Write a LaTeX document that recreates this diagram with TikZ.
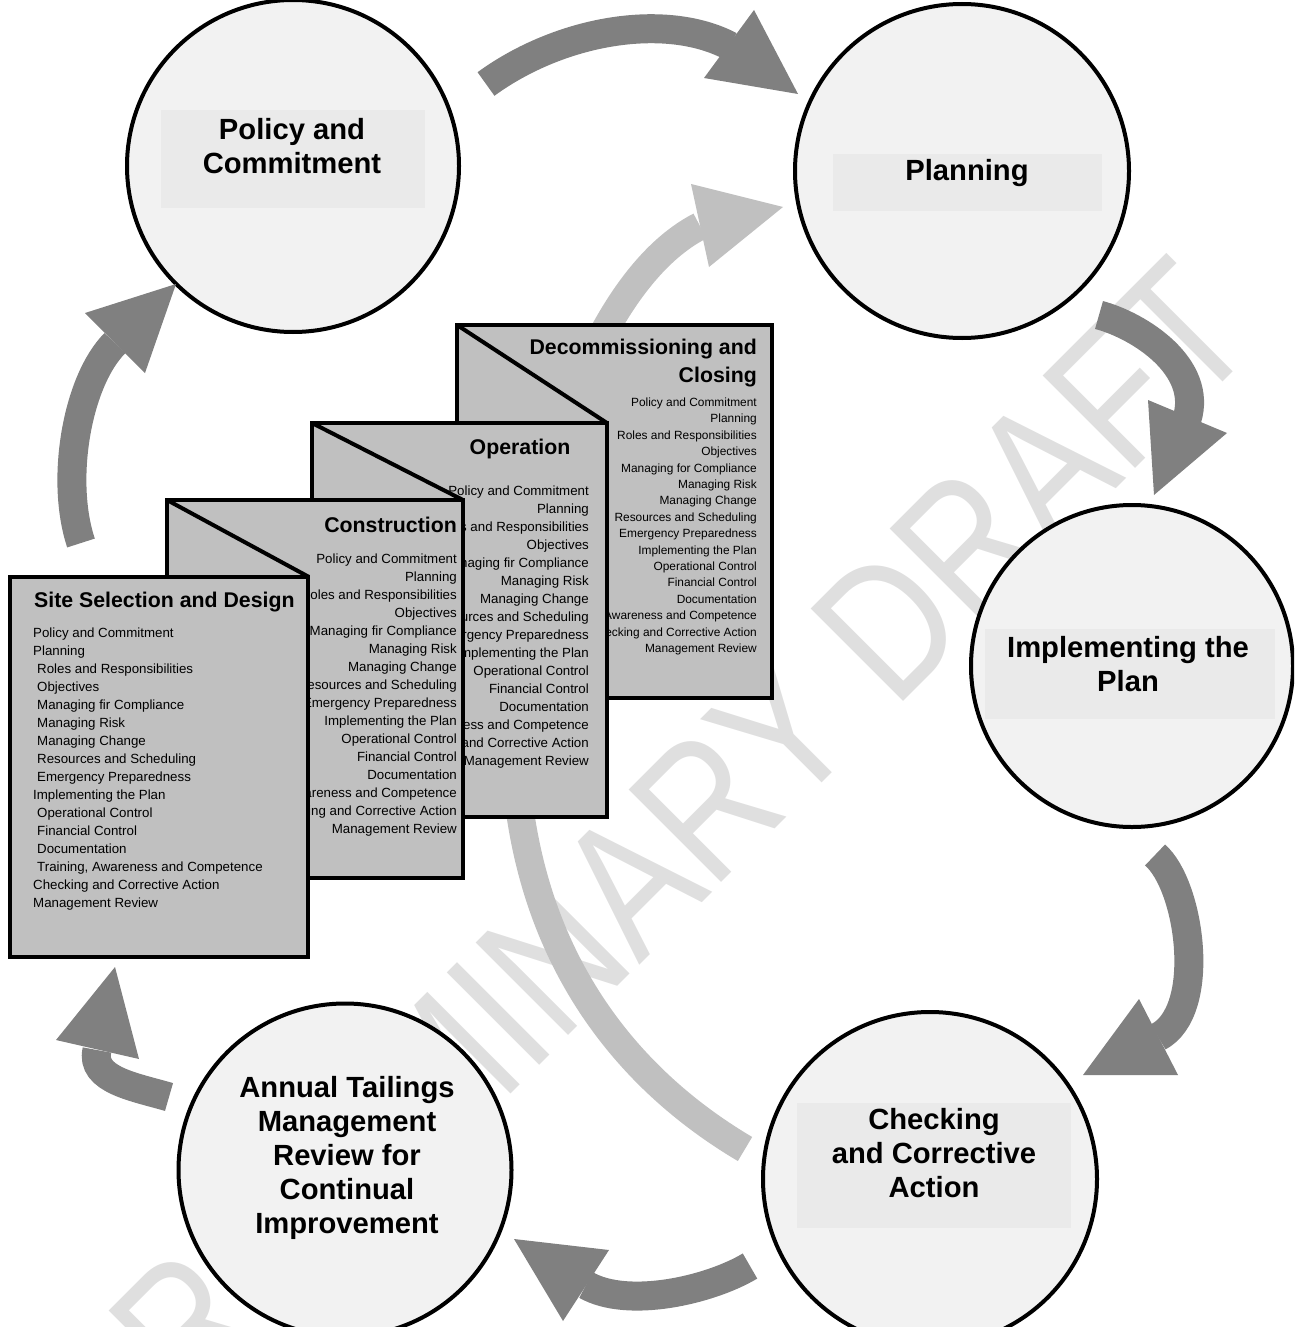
\documentclass[tikz,border=0pt]{standalone}
\usepackage{fontspec}
\usepackage{graphicx}
\setmainfont{Liberation Sans}
\definecolor{arrowgray}{HTML}{808080}
\definecolor{arcgray}{HTML}{C0C0C0}
\definecolor{docgray}{HTML}{C0C0C0}
\definecolor{circfill}{HTML}{F2F2F2}
\definecolor{labelfill}{HTML}{EAEAEA}
\definecolor{markgray}{HTML}{DFDFDF}
\begin{document}
\begin{tikzpicture}[x=1pt,y=-1pt,
  stage/.style={circle, draw=black, line width=4pt, fill=circfill, inner sep=0pt},
  labelbox/.style={rectangle, fill=labelfill, inner sep=0pt},
  stagetext/.style={align=center, font=\fontsize{29.2}{34}\selectfont\bfseries, inner sep=0pt},
  docbox/.style={draw=black, line width=4pt, fill=docgray},
  fold/.style={draw=black, line width=4pt},
  doctitle/.style={font=\fontsize{21.3}{28}\selectfont\bfseries, inner sep=0pt},
  item/.style={font=\fontsize{13.3}{18}\selectfont, inner sep=0pt},
  smallitem/.style={font=\fontsize{11.9}{16}\selectfont, inner sep=0pt},
  shaft/.style={line width=29pt, draw=arrowgray},
  head/.style={fill=arrowgray},
  bigshaft/.style={line width=28pt, draw=arcgray},
  bighead/.style={fill=arcgray},
]
\useasboundingbox (0,0) rectangle (1294,1327);
\clip (0,0) rectangle (1294,1327);

% watermark
\node[text=markgray, rotate=45, font=\fontsize{190}{190}\selectfont, inner sep=0pt]
  (mark) at (644,868) {\scalebox{0.82}[1]{PRELIMINARY DRAFT}};

% the five stages of the cycle
\node[stage, minimum size=332pt] (policy) at (293,166) {};
\node[stage, minimum size=334pt] (planning) at (962,171) {};
\node[stage, minimum size=322pt] (impl) at (1132,666) {};
\node[stage, minimum size=334pt] (check) at (930,1179) {};
\node[stage, minimum size=333pt] (review) at (345,1170) {};

\node[labelbox, minimum width=264pt, minimum height=98pt] (policyBox) at (293,159) {};
\node[labelbox, minimum width=269pt, minimum height=57pt] (planningBox) at (967.5,182.5) {};
\node[labelbox, minimum width=290pt, minimum height=90pt] (implBox) at (1130,674) {};
\node[labelbox, minimum width=274pt, minimum height=125pt] (checkBox) at (934,1165.5) {};

\node[stagetext] (policyText) at (292,146) {Policy and\\Commitment};
\node[stagetext] (planningText) at (967,173) {Planning};
\node[stagetext] (implText) at (1128,664) {Implementing the\\Plan};
\node[stagetext] (checkText) at (934,1153) {Checking\\and Corrective\\Action};
\node[stagetext] (reviewText) at (347,1158) {Annual Tailings\\Management\\Review for\\Continual\\Improvement};

% dark cycle arrows
\coordinate (a1s) at (486,84);  \coordinate (a1e) at (730,46);
\draw[shaft] (a1s) .. controls (560,30) and (665,12) .. (a1e);
\fill[head] (754,10) -- (798,94) -- (704,78) -- cycle;

\coordinate (a2s) at (1099,315); \coordinate (a2e) at (1187,419);
\draw[shaft] (a2s) .. controls (1140,326) and (1203,367) .. (a2e);
\fill[head] (1148,400) -- (1227,433) -- (1154,495) -- cycle;

\coordinate (a3s) at (1155,855); \coordinate (a3e) at (1158,1037);
\draw[shaft] (a3s) .. controls (1190,885) and (1208,1011) .. (a3e);
\fill[head] (1139,999) -- (1178,1075) -- (1083,1075) -- cycle;

\coordinate (a4s) at (750,1266); \coordinate (a4e) at (586,1285);
\draw[shaft] (a4s) .. controls (710,1290) and (628,1309) .. (a4e);
\fill[head] (609,1250) -- (563,1321) -- (514,1239) -- cycle;

\coordinate (a5s) at (169,1097); \coordinate (a5e) at (97,1050);
\draw[shaft] (a5s) .. controls (135,1087) and (90,1080) .. (a5e);
\fill[head] (56,1040) -- (139,1059) -- (115,967) -- cycle;

\coordinate (a6s) at (81,543); \coordinate (a6e) at (115,343);
\draw[shaft] (a6s) .. controls (60,480) and (77,381) .. (a6e);
\fill[head] (85,313) -- (176,284) -- (145,373) -- cycle;

% light return arc behind the document stack
\coordinate (a7s) at (745,1149); \coordinate (a7m) at (515,760); \coordinate (a7e) at (700,226);
\draw[bigshaft] (a7s) .. controls (620,1075) and (525,950) .. (a7m)
  .. controls (505,570) and (575,290) .. (a7e);
\fill[bighead] (691,184) -- (783,207) -- (709,267) -- cycle;

% document stack, back to front
\draw[docbox] (457,325) rectangle (772,698);
\draw[fold] (457,325) -- (607,423);
\node[doctitle, anchor=base east] (decT1) at (757,354.5) {Decommissioning and};
\node[doctitle, anchor=base east] (decT2) at (757,382.5) {Closing};
\foreach \t [count=\i] in {Policy and Commitment, Planning, Roles and Responsibilities,
  Objectives, Managing for Compliance, Managing Risk, Managing Change,
  Resources and Scheduling, Emergency Preparedness, Implementing the Plan,
  Operational Control, Financial Control, Documentation,
  {Training, Awareness and Competence}, Checking and Corrective Action, Management Review}
  \node[smallitem, anchor=base east] (dec\i) at (757,406.5+16.4*\i-16.4) {\t};

\draw[docbox] (312,423) rectangle (607,817);
\draw[fold] (312,423) -- (463,500);
\node[doctitle, anchor=base] (opT) at (520,454.5) {Operation};
\foreach \t [count=\i] in {Policy and Commitment, Planning, Roles and Responsibilities,
  Objectives, Managing fir Compliance, Managing Risk, Managing Change,
  Resources and Scheduling, Emergency Preparedness, Implementing the Plan,
  Operational Control, Financial Control, Documentation,
  {Training, Awareness and Competence}, Checking and Corrective Action, Management Review}
  \node[item, anchor=base east] (op\i) at (589,495+18*\i-18) {\t};

\draw[docbox] (167,500) rectangle (463,878);
\draw[fold] (167,500) -- (309,577);
\node[doctitle, anchor=base east] (conT) at (457,532.5) {Construction};
\foreach \t [count=\i] in {Policy and Commitment, Planning, Roles and Responsibilities,
  Objectives, Managing fir Compliance, Managing Risk, Managing Change,
  Resources and Scheduling, Emergency Preparedness, Implementing the Plan,
  Operational Control, Financial Control, Documentation,
  {Training, Awareness and Competence}, Checking and Corrective Action, Management Review}
  \node[item, anchor=base east] (con\i) at (457,563+18*\i-18) {\t};

\draw[docbox] (10,577) rectangle (308,957);
\node[doctitle, anchor=base west] (siteT) at (34,607.5) {Site Selection and Design};
\foreach \t/\ind [count=\i] in {Policy and Commitment/0, Planning/0, Roles and Responsibilities/4,
  Objectives/4, Managing fir Compliance/4, Managing Risk/4, Managing Change/4,
  Resources and Scheduling/4, Emergency Preparedness/4, Implementing the Plan/0,
  Operational Control/4, Financial Control/4, Documentation/4,
  {Training, Awareness and Competence}/4, Checking and Corrective Action/0, Management Review/0}
  \node[item, anchor=base west] (site\i) at (33+\ind,637+18*\i-18) {\t};
\end{tikzpicture}
\end{document}
